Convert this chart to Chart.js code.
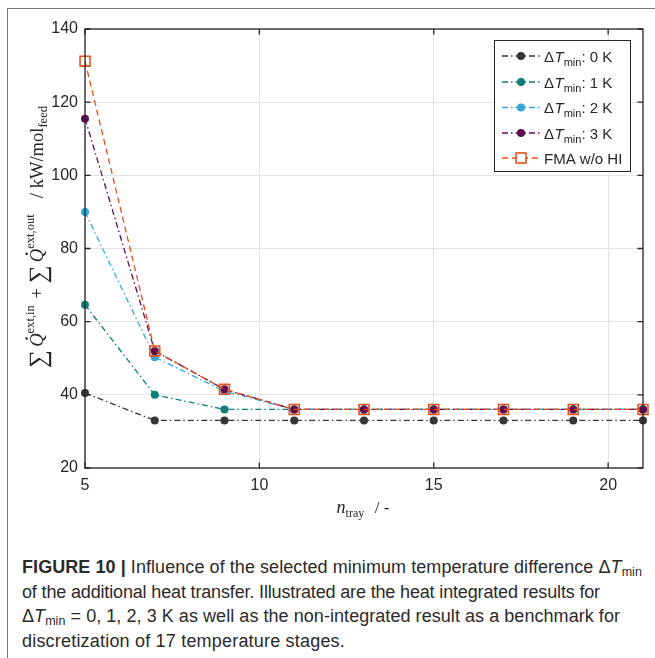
<!DOCTYPE html>
<html><head><meta charset="utf-8">
<script src="https://cdn.jsdelivr.net/npm/chart.js@4"></script>
<style>
html,body{margin:0;padding:0;background:#fff;width:655px;height:658px;overflow:hidden;}
#frame{position:absolute;left:7px;top:8px;width:660px;height:660px;border-left:1px solid #777;border-top:1px solid #777;}
#wrap{position:absolute;left:0;top:0;width:655px;height:520px;}
#cap{position:absolute;left:22px;top:555px;font-family:"Liberation Sans",Arial,Helvetica,sans-serif;font-size:18px;line-height:24.6px;color:#2a2a2a;white-space:nowrap;}
#cap div{height:24.6px;}
#cap span.ln{display:inline-block;}
#cap sub{font-size:12.5px;vertical-align:-3px;line-height:0;}
</style></head>
<body>
<div id="frame"></div>
<div id="wrap"><canvas id="c" width="655" height="520"></canvas></div>
<div id="cap">
<div><span class="ln" data-w="620"><b>FIGURE 10 |</b> Influence of the selected minimum temperature difference Δ<i>T</i><sub>min</sub></span></div>
<div><span class="ln" data-w="578">of the additional heat transfer. Illustrated are the heat integrated results for</span></div>
<div><span class="ln" data-w="598">Δ<i>T</i><sub>min</sub> = 0, 1, 2, 3 K as well as the non-integrated result as a benchmark for</span></div>
<div><span class="ln" data-w="323">discretization of 17 temperature stages.</span></div>
</div>
<script>
// ---- data ----
const trays = [5, 7, 9, 11, 13, 15, 17, 19, 21];
const dTmin0 = [40.5, 33, 33, 33, 33, 33, 33, 33, 33];
const dTmin1 = [64.6, 40, 36, 36, 36, 36, 36, 36, 36];
const dTmin2 = [90, 50.3, 41, 36, 36, 36, 36, 36, 36];
const dTmin3 = [115.5, 52, 41.5, 36, 36, 36, 36, 36, 36];
const fmaNoHI = [131.2, 52, 41.5, 36, 36, 36, 36, 36, 36];
const xTicks = [5, 10, 15, 20];
const yTicks = [20, 40, 60, 80, 100, 120, 140];
const seriesLabels = ['0 K', '1 K', '2 K', '3 K', 'FMA w/o HI'];

const colors = ['#353535', '#0c7d7a', '#34a8d4', '#5e0b50', '#e2511c'];
const dashDot = [6, 3, 1.5, 3];
const dashed = [6, 4];
const serif = '"Liberation Serif","Times New Roman",serif';
const sans = '"Liberation Sans",Arial,Helvetica,sans-serif';
const ink = '#262626';

// fit caption lines to reference widths
document.querySelectorAll('#cap span.ln').forEach(el => {
  const target = parseFloat(el.dataset.w);
  const w = el.getBoundingClientRect().width;
  const n = el.textContent.length;
  el.style.letterSpacing = ((target - w) / n).toFixed(3) + 'px';
});

function pts(arr) { return trays.map((x, i) => ({x: x, y: arr[i]})); }

const seriesData = [dTmin0, dTmin1, dTmin2, dTmin3, fmaNoHI];
const datasets = seriesData.map((arr, i) => {
  const isFMA = i === 4;
  return {
    label: isFMA ? seriesLabels[i] : 'ΔTmin: ' + seriesLabels[i],
    data: pts(arr),
    borderColor: colors[i],
    backgroundColor: isFMA ? 'rgba(0,0,0,0)' : colors[i],
    borderWidth: 1.3,
    borderDash: isFMA ? dashed : dashDot,
    pointStyle: isFMA ? 'rect' : 'circle',
    pointRadius: isFMA ? 7 : 4,
    pointBorderWidth: isFMA ? 1.6 : 0,
    pointBorderColor: colors[i],
    pointBackgroundColor: isFMA ? 'rgba(0,0,0,0)' : colors[i],
    pointHoverRadius: isFMA ? 7 : 4,
    tension: 0,
    fill: false,
    clip: false,
    order: 4 - i
  };
});

function drawRuns(ctx, runs, x, y, targetW) {
  let w = 0;
  runs.forEach(r => { ctx.font = r.f; r.w = ctx.measureText(r.t).width; w += r.w + (r.gap || 0); });
  const s = targetW ? targetW / w : 1;
  ctx.save();
  ctx.translate(x - (w * s) / 2, y);
  ctx.scale(s, s);
  let cx = 0;
  runs.forEach(r => {
    ctx.font = r.f;
    ctx.fillText(r.t, cx, r.dy || 0);
    if (r.dot) {
      ctx.beginPath();
      ctx.arc(cx + r.w * 0.62, -15, 1.2, 0, Math.PI * 2);
      ctx.fill();
    }
    cx += r.w + (r.gap || 0);
  });
  ctx.restore();
}

const framePlugin = {
  id: 'framePlugin',
  afterDatasetsDraw(chart) {
    const ctx = chart.ctx;
    const a = chart.chartArea;
    const xs = chart.scales.x, ys = chart.scales.y;
    ctx.save();
    ctx.strokeStyle = ink;
    ctx.lineWidth = 1.3;
    ctx.setLineDash([]);
    ctx.strokeRect(a.left, a.top, a.right - a.left, a.bottom - a.top);
    const tl = 5.5;
    ctx.beginPath();
    xTicks.forEach(v => {
      const px = xs.getPixelForValue(v);
      ctx.moveTo(px, a.bottom); ctx.lineTo(px, a.bottom - tl);
      ctx.moveTo(px, a.top); ctx.lineTo(px, a.top + tl);
    });
    yTicks.forEach(v => {
      const py = ys.getPixelForValue(v);
      ctx.moveTo(a.left, py); ctx.lineTo(a.left + tl, py);
      ctx.moveTo(a.right, py); ctx.lineTo(a.right - tl, py);
    });
    ctx.stroke();
    ctx.restore();
  },
  afterDraw(chart) {
    const ctx = chart.ctx;
    ctx.save();
    ctx.fillStyle = ink;
    ctx.textBaseline = 'alphabetic';
    // ---- legend ----
    const lx = 494.5, ly = 40.5, lw = 136, lh = 131;
    ctx.fillStyle = '#fff';
    ctx.fillRect(lx, ly, lw, lh);
    ctx.strokeStyle = ink;
    ctx.lineWidth = 1;
    ctx.strokeRect(lx, ly, lw, lh);
    const rowY = [56, 82, 107.5, 133, 158];
    datasets.forEach((d, i) => {
      const y = rowY[i];
      ctx.save();
      ctx.strokeStyle = d.borderColor;
      ctx.lineWidth = 1.3;
      ctx.setLineDash(d.borderDash);
      ctx.beginPath(); ctx.moveTo(502, y); ctx.lineTo(541, y); ctx.stroke();
      ctx.setLineDash([]);
      if (i < 4) {
        ctx.fillStyle = d.borderColor;
        ctx.beginPath(); ctx.arc(521, y, 4, 0, Math.PI * 2); ctx.fill();
      } else {
        ctx.fillStyle = '#fff';
        ctx.fillRect(516, y - 5, 10, 10);
        ctx.lineWidth = 1.6;
        ctx.strokeRect(516, y - 5, 10, 10);
      }
      ctx.restore();
      ctx.fillStyle = ink;
      let x = 544;
      const by = y + 5.5;
      if (i < 4) {
        ctx.font = '15px ' + sans; ctx.fillText('Δ', x, by); x += ctx.measureText('Δ').width + 0.5;
        ctx.font = 'italic 15px ' + sans; ctx.fillText('T', x, by); x += ctx.measureText('T').width;
        ctx.font = '11px ' + sans; ctx.fillText('min', x, by + 4); x += ctx.measureText('min').width;
        ctx.font = '15px ' + sans; ctx.fillText(': ' + seriesLabels[i], x, by);
      } else {
        ctx.font = '15px ' + sans; ctx.fillText(seriesLabels[i], x, by);
      }
    });
    // ---- y axis title ----
    ctx.fillStyle = ink;
    ctx.save();
    ctx.translate(43, 237);
    ctx.rotate(-Math.PI / 2);
    const b = '17px ' + serif, it = 'italic 17px ' + serif, sm = '11.5px ' + serif, big = '23px ' + serif;
    drawRuns(ctx, [
      {t: '∑', f: big, dy: 3, gap: 3},
      {t: 'Q', f: it, dot: true},
      {t: 'ext,in', f: sm, dy: -8, gap: 2},
      {t: ' + ', f: b},
      {t: '∑', f: big, dy: 3, gap: 3},
      {t: 'Q', f: it, dot: true},
      {t: 'ext,out', f: sm, dy: -8, gap: 2},
      {t: '   / kW/mol', f: b},
      {t: 'feed', f: sm, dy: 4}
    ], 0, 0, 262);
    ctx.restore();
    // ---- x axis title ----
    drawRuns(ctx, [
      {t: 'n', f: 'italic 18px ' + serif},
      {t: 'tray', f: '12px ' + serif, dy: 4, gap: 2},
      {t: '  / -', f: '17px ' + serif}
    ], 363, 513, 0);
    ctx.restore();
  }
};

new Chart(document.getElementById('c'), {
  type: 'line',
  data: {datasets: datasets},
  options: {
    responsive: false,
    animation: false,
    events: [],
    layout: {padding: {left: 0, right: 12, top: 29, bottom: 0}},
    plugins: {legend: {display: false}, tooltip: {enabled: false}, title: {display: false}},
    scales: {
      x: {
        type: 'linear', min: 5, max: 21,
        afterFit(s) { s.height = 52; },
        afterBuildTicks(s) { s.ticks = xTicks.map(v => ({value: v})); },
        ticks: {includeBounds: false, stepSize: 5, color: ink, padding: 8, maxRotation: 0,
                font: {family: sans, size: 16}},
        grid: {color: '#e3e3e3', lineWidth: 1, drawTicks: false},
        border: {display: false}
      },
      y: {
        type: 'linear', min: 20, max: 140,
        afterFit(s) { s.width = 85; },
        afterBuildTicks(s) { s.ticks = yTicks.map(v => ({value: v})); },
        ticks: {stepSize: 20, color: ink, padding: 7, font: {family: sans, size: 16}},
        grid: {color: '#e3e3e3', lineWidth: 1, drawTicks: false},
        border: {display: false}
      }
    }
  },
  plugins: [framePlugin]
});
</script>
</body></html>
